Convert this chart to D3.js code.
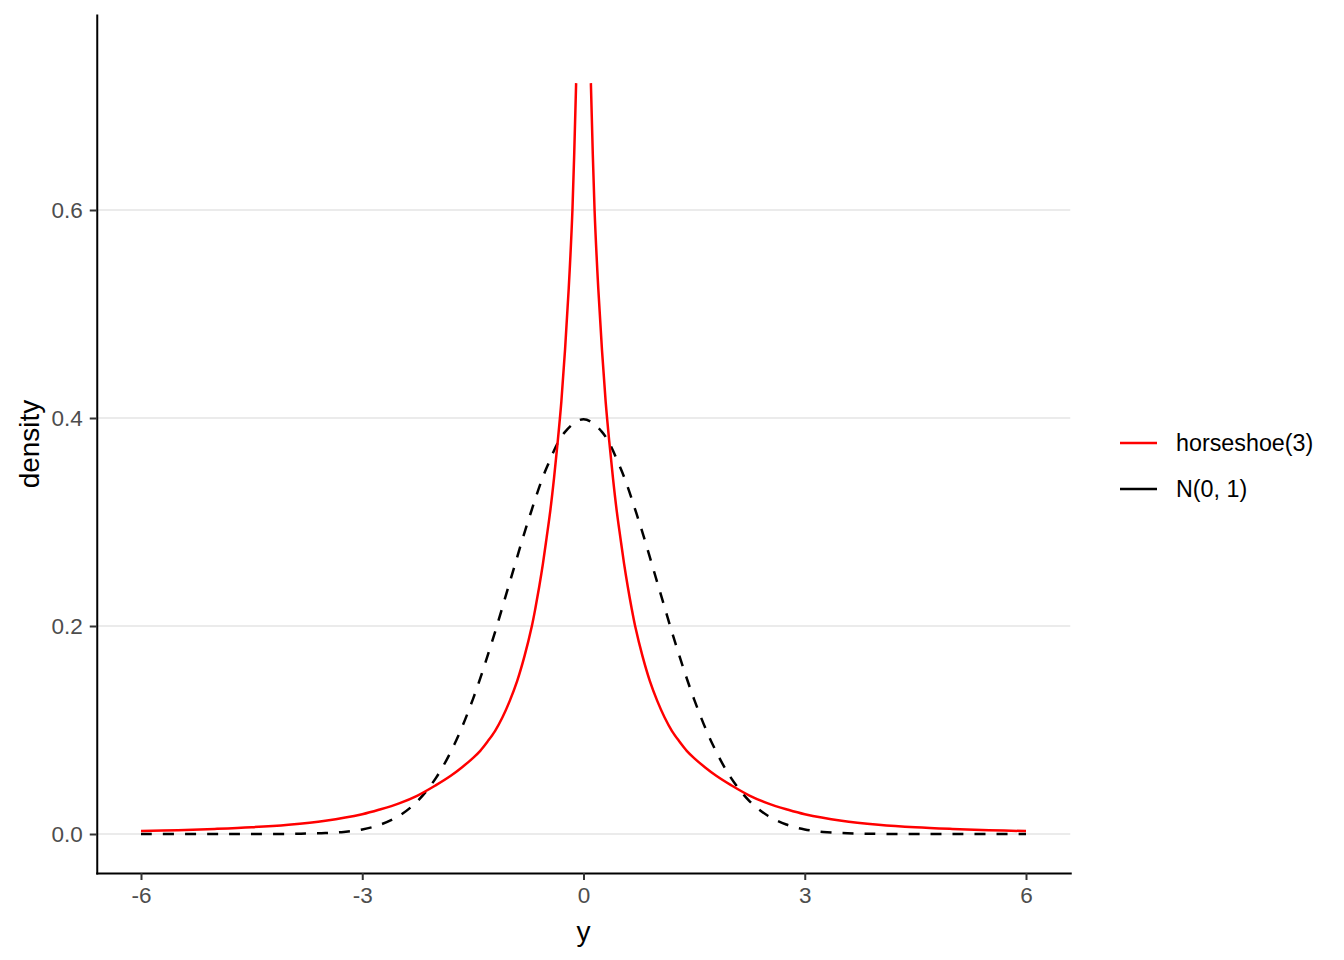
<!DOCTYPE html>
<html>
<head>
<meta charset="utf-8">
<script src="https://cdn.jsdelivr.net/npm/d3@7"></script>
<style>
  html, body { margin: 0; padding: 0; background: #fff; }
  svg { display: block; font-family: "Liberation Sans", Arial, sans-serif; }
</style>
</head>
<body>
<svg id="chart" width="1344" height="960"></svg>
<script>
// ---- data ----
// horseshoe(3): positive half, mirrored for negative side; no value at 0 (line breaks there)
const hsXpos = [0.1, 0.15, 0.2, 0.25, 0.3, 0.35, 0.4, 0.45, 0.5, 0.55, 0.6, 0.65, 0.7, 0.8, 0.9, 1.0, 1.1, 1.2, 1.3, 1.4, 1.5, 1.65, 1.8, 2.0, 2.25, 2.5, 2.75, 3.0, 3.5, 4.0, 4.5, 5.0, 5.5, 6.0];
const hsYpos = [0.722, 0.600, 0.525, 0.466, 0.416, 0.377, 0.342, 0.311, 0.285, 0.260, 0.238, 0.218, 0.200, 0.171, 0.147, 0.128, 0.112, 0.099, 0.089, 0.080, 0.073, 0.064, 0.056, 0.047, 0.037, 0.0295, 0.0238, 0.019, 0.0128, 0.0090, 0.0065, 0.0049, 0.0037, 0.0028];

const nX = [-6, -5, -4.5, -4, -3.75, -3.5, -3.25, -3, -2.75, -2.5, -2.25, -2, -1.75, -1.5, -1.25, -1, -0.75, -0.5, -0.25, 0,
            0.25, 0.5, 0.75, 1, 1.25, 1.5, 1.75, 2, 2.25, 2.5, 2.75, 3, 3.25, 3.5, 3.75, 4, 4.5, 5, 6];
const nY = [0, 0, 0, 0.0001, 0.0004, 0.0009, 0.0020, 0.0044, 0.0091, 0.0175, 0.0317, 0.0540, 0.0863, 0.1295, 0.1826, 0.2420, 0.3011, 0.3521, 0.3867, 0.3989,
            0.3867, 0.3521, 0.3011, 0.2420, 0.1826, 0.1295, 0.0863, 0.0540, 0.0317, 0.0175, 0.0091, 0.0044, 0.0020, 0.0009, 0.0004, 0.0001, 0, 0, 0];

const xTicks = [-6, -3, 0, 3, 6];
const xTickLabels = ["-6", "-3", "0", "3", "6"];
const yTicks = [0, 0.2, 0.4, 0.6];
const yTickLabels = ["0.0", "0.2", "0.4", "0.6"];
const seriesNames = ["horseshoe(3)", "N(0, 1)"];
const seriesColors = ["#FF0000", "#000000"];

// ---- layout ----
const svg = d3.select("#chart");
const x = d3.scaleLinear().domain([-6.6, 6.6]).range([96.75, 1070.25]);
const y = d3.scaleLinear().domain([-0.0375, 0.7875]).range([873, 15]);

// grid
svg.append("g").selectAll("line").data(yTicks).join("line")
  .attr("x1", x(-6.6)).attr("x2", x(6.6))
  .attr("y1", d => y(d)).attr("y2", d => y(d))
  .attr("stroke", "#EBEBEB").attr("stroke-width", 2);

// build series
const hsLeft = hsXpos.map((v, i) => ({x: -v, y: hsYpos[i]})).reverse();
const hsRight = hsXpos.map((v, i) => ({x: v, y: hsYpos[i]}));
const nData = nX.map((v, i) => ({x: v, y: nY[i]}));

const line = d3.line()
  .x(d => x(d.x)).y(d => y(d.y))
  .curve(d3.curveCatmullRom.alpha(0.5));

svg.append("path").datum(nData)
  .attr("d", line)
  .attr("fill", "none").attr("stroke", seriesColors[1])
  .attr("stroke-width", 2.5).attr("stroke-dasharray", "11,11");

[hsLeft, hsRight].forEach(seg => {
  svg.append("path").datum(seg)
    .attr("d", line)
    .attr("fill", "none").attr("stroke", seriesColors[0])
    .attr("stroke-width", 2.5);
});

// axes
const xAxis = d3.axisBottom(x).tickValues(xTicks).tickSize(7).tickSizeOuter(0).tickPadding(7)
  .tickFormat((d, i) => xTickLabels[i]);
const gx = svg.append("g").attr("transform", "translate(0,873)").call(xAxis);

const yAxis = d3.axisLeft(y).tickValues(yTicks).tickSize(7).tickSizeOuter(0).tickPadding(7)
  .tickFormat((d, i) => yTickLabels[i]);
const gy = svg.append("g").attr("transform", "translate(96.75,0)").call(yAxis);

[gx, gy].forEach(g => {
  g.select(".domain").attr("stroke", "#000").attr("stroke-width", 2).attr("stroke-linecap", "square");
  g.selectAll(".tick line").attr("stroke", "#333333").attr("stroke-width", 2);
  g.selectAll(".tick text").attr("fill", "#4D4D4D")
    .style("font-size", "22.5px").style("font-family", "'Liberation Sans', Arial, sans-serif");
});

// axis titles
svg.append("text").attr("x", x(0)).attr("y", 941)
  .attr("text-anchor", "middle").attr("fill", "#000")
  .style("font-size", "28px").text("y");
svg.append("text").attr("transform", "translate(39,444) rotate(-90)")
  .attr("text-anchor", "middle").attr("fill", "#000")
  .style("font-size", "28px").text("density");

// legend
const legendY = [443, 489];
const lg = svg.append("g");
seriesNames.forEach((name, i) => {
  lg.append("line").attr("x1", 1120).attr("x2", 1157)
    .attr("y1", legendY[i]).attr("y2", legendY[i])
    .attr("stroke", seriesColors[i]).attr("stroke-width", 2.5);
  lg.append("text").attr("x", 1176).attr("y", legendY[i]).attr("dy", "0.36em")
    .attr("fill", "#000").style("font-size", "23.3px").text(name);
});
</script>
</body>
</html>
